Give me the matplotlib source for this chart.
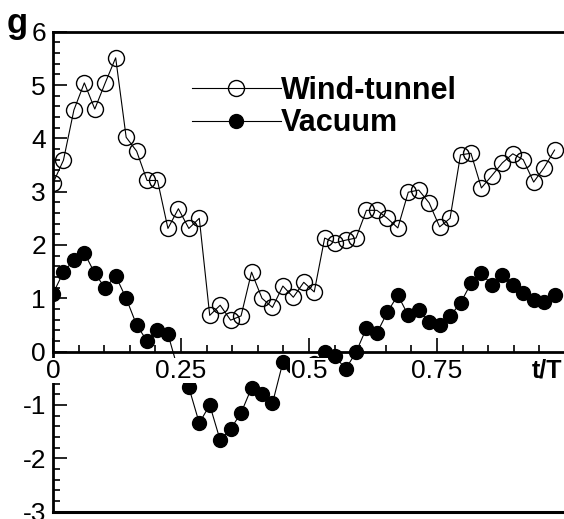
import numpy as np
import matplotlib
matplotlib.use("Agg")
import matplotlib.pyplot as plt
from matplotlib.ticker import MultipleLocator

plt.rcParams['font.family'] = ['Liberation Sans', 'DejaVu Sans']
plt.rcParams['axes.unicode_minus'] = False

# phase t/T of each sample (49 samples over one period)
t = [0.0, 0.0204, 0.0408, 0.0612, 0.0816, 0.1020, 0.1224, 0.1429, 0.1633, 0.1837,
     0.2041, 0.2245, 0.2449, 0.2653, 0.2857, 0.3061, 0.3265, 0.3469, 0.3673, 0.3878,
     0.4082, 0.4286, 0.4490, 0.4694, 0.4898, 0.5102, 0.5306, 0.5510, 0.5714, 0.5918,
     0.6122, 0.6327, 0.6531, 0.6735, 0.6939, 0.7143, 0.7347, 0.7551, 0.7755, 0.7959,
     0.8163, 0.8367, 0.8571, 0.8776, 0.8980, 0.9184, 0.9388, 0.9592, 0.9796]

wind_tunnel = [3.16, 3.59, 4.53, 5.04, 4.55, 5.04, 5.51, 4.02, 3.76, 3.21,
               3.21, 2.31, 2.68, 2.31, 2.50, 0.68, 0.87, 0.59, 0.67, 1.49,
               1.00, 0.83, 1.23, 1.02, 1.30, 1.12, 2.13, 2.04, 2.09, 2.13,
               2.65, 2.65, 2.50, 2.32, 2.99, 3.03, 2.79, 2.34, 2.50, 3.69,
               3.72, 3.07, 3.30, 3.54, 3.71, 3.60, 3.18, 3.45, 3.78]

vacuum = [1.09, 1.49, 1.72, 1.85, 1.47, 1.19, 1.42, 1.00, 0.50, 0.20,
          0.40, 0.33, -0.36, -0.67, -1.34, -1.00, -1.66, -1.45, -1.15, -0.68,
          -0.80, -0.97, -0.20, -0.27, -0.27, -0.22, -0.01, -0.08, -0.33, -0.01,
          0.44, 0.35, 0.74, 1.06, 0.68, 0.78, 0.55, 0.50, 0.67, 0.91,
          1.28, 1.47, 1.25, 1.43, 1.25, 1.10, 0.97, 0.93, 1.06]

x_ticks = [0, 0.25, 0.5, 0.75]
x_tick_labels = ['0', '0.25', '0.5', '0.75']

fig = plt.figure(figsize=(5.64, 5.19), dpi=100)
ax = fig.add_axes([53 / 564, 1 - 511.6 / 519, 512 / 564, 479.9 / 519])

ax.plot(t, wind_tunnel, color='black', lw=0.8, marker='o', ms=11.5,
        mfc='none', mec='black', mew=1.0, label='Wind-tunnel', zorder=2)
ax.plot(t, vacuum, color='black', lw=0.8, marker='o', ms=10,
        mfc='black', mec='black', label='Vacuum', zorder=2)

ax.set_xlim(0, 1)
ax.set_ylim(-3, 6)

for side in ['left', 'top', 'bottom']:
    ax.spines[side].set_linewidth(2)
ax.spines['right'].set_visible(False)
ax.spines['bottom'].set_position(('data', 0))
ax.spines['bottom'].set_zorder(1)
ax.axhline(-3, color='black', lw=2.2, clip_on=False)

ax.xaxis.set_major_locator(MultipleLocator(0.25))
ax.xaxis.set_minor_locator(MultipleLocator(0.05))
ax.yaxis.set_major_locator(MultipleLocator(1))
ax.yaxis.set_minor_locator(MultipleLocator(0.2))
ax.tick_params(axis='both', which='both', direction='in', width=1.2)
ax.tick_params(axis='both', which='major', length=10)
ax.tick_params(axis='both', which='minor', length=5)
ax.tick_params(axis='x', labelbottom=False, top=False)
ax.tick_params(axis='y', labelsize=19, pad=5, right=False)

# x tick labels drawn over the data with a white background, like the original
for xt, lab in zip(x_ticks, x_tick_labels):
    ax.annotate(lab, xy=(xt, 0), xytext=(0, -5), textcoords='offset points',
                ha='center', va='top', fontsize=19, zorder=5,
                bbox=dict(facecolor='white', edgecolor='none', pad=0.5))
ax.annotate('t/T', xy=(0.965, 0), xytext=(0, -5), textcoords='offset points',
            ha='center', va='top', fontsize=18, fontweight='bold', zorder=5)

fig.text(7 / 564, 1 - 24 / 519, 'g', fontsize=25, fontweight='bold',
         ha='left', va='center')

leg = ax.legend(loc='upper left', bbox_to_anchor=(192 / 564, 1 - 76 / 519),
                bbox_transform=fig.transFigure, frameon=False,
                prop=dict(size=22, weight='bold'), handlelength=2.9,
                handletextpad=0.0, labelspacing=0.08, borderpad=0,
                borderaxespad=0)

fig.savefig('out.png', dpi=100)
